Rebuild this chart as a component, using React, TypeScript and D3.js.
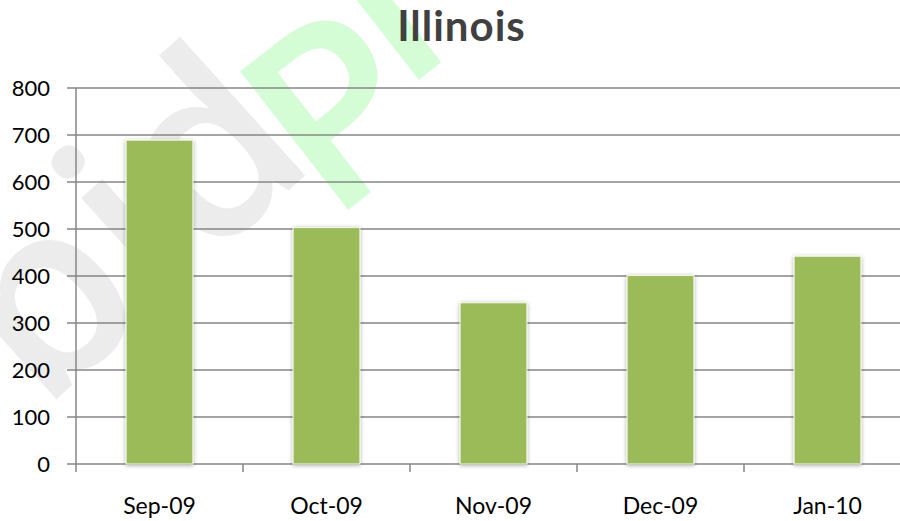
import React from "react";
import * as d3 from "d3";

const categories = ["Sep-09", "Oct-09", "Nov-09", "Dec-09", "Jan-10"];
const values = [689, 503, 343, 401, 442];
const yTicks = [0, 100, 200, 300, 400, 500, 600, 700, 800];
const title = "Illinois";
const watermarkGray = "bid";
const watermarkGreenP = "P";
const watermarkGreenL = "l";

const W = 900;
const H = 521;
const X0 = 76;
const STEP = 167;
const Y0 = 464;
const Y1 = 88;

export default function App() {
  const band = d3
    .scaleBand<string>()
    .domain(categories)
    .range([X0, X0 + STEP * categories.length]);
  const y = d3.scaleLinear().domain([0, 800]).range([Y0, Y1]);
  const barW = band.step() / 2.5;
  const font = "Lato, 'Open Sans', sans-serif";
  const wmStyle = { fontFamily: "'Open Sans', sans-serif", fontSize: 246, fontWeight: 600 };

  return (
    <svg
      width={W}
      height={H}
      style={{ position: "absolute", left: 0, top: 0, background: "#fff" }}
    >
      <defs>
        <filter id="sh" x="-20%" y="-5%" width="140%" height="110%">
          <feGaussianBlur in="SourceAlpha" stdDeviation="2" />
          <feOffset dx="0" dy="1" result="b" />
          <feComponentTransfer>
            <feFuncA type="linear" slope="0.35" />
          </feComponentTransfer>
          <feMerge>
            <feMergeNode />
            <feMergeNode in="SourceGraphic" />
          </feMerge>
        </filter>
      </defs>
      {/* watermark */}
      <g transform="translate(320,162) rotate(-42)" style={wmStyle}>
        <text x={0} y={0} textAnchor="end" fill="#ececec">{watermarkGray}</text>
      </g>
      <g transform="translate(330,224) rotate(-38)" style={wmStyle}>
        <text x={0} y={0} textAnchor="start" fill="#d4fdd6">{watermarkGreenP}</text>
      </g>
      <g transform="translate(403,92) rotate(-38)" style={wmStyle}>
        <text x={0} y={0} textAnchor="start" fill="#d4fdd6">{watermarkGreenL}</text>
      </g>
      <text
        x={461.5}
        y={41}
        textAnchor="middle"
        fill="#404040"
        style={{ fontFamily: font, fontWeight: 700, fontSize: 42, letterSpacing: 1 }}
      >
        {title}
      </text>
      {/* gridlines + y ticks */}
      {yTicks.map((t) => (
        <g key={t}>
          <line x1={67} x2={W} y1={y(t)} y2={y(t)} stroke="#868686" strokeWidth={1.5} />
          <text
            x={50}
            y={y(t)}
            dy="0.36em"
            textAnchor="end"
            fill="#000"
            style={{ fontFamily: font, fontSize: 22 }}
          >
            {t}
          </text>
        </g>
      ))}
      {/* y axis */}
      <line x1={X0} x2={X0} y1={Y1} y2={Y0 + 8} stroke="#868686" strokeWidth={1.5} />
      {/* x ticks */}
      {categories.map((c) => (
        <line
          key={c}
          x1={(band(c) as number) + band.step()}
          x2={(band(c) as number) + band.step()}
          y1={Y0}
          y2={Y0 + 8}
          stroke="#868686"
          strokeWidth={1.5}
        />
      ))}
      {/* bars */}
      {categories.map((c, i) => {
        const cx = (band(c) as number) + band.bandwidth() / 2;
        return (
          <rect
            key={c}
            x={cx - barW / 2}
            y={y(values[i])}
            width={barW}
            height={Y0 - y(values[i])}
            fill="#9bbb59"
            stroke="#f4f8ec"
            strokeWidth={1}
            filter="url(#sh)"
          />
        );
      })}
      {/* x labels */}
      {categories.map((c) => (
        <text
          key={c}
          x={(band(c) as number) + band.bandwidth() / 2}
          y={514}
          textAnchor="middle"
          fill="#000"
          style={{ fontFamily: font, fontSize: 23 }}
        >
          {c}
        </text>
      ))}
    </svg>
  );
}
